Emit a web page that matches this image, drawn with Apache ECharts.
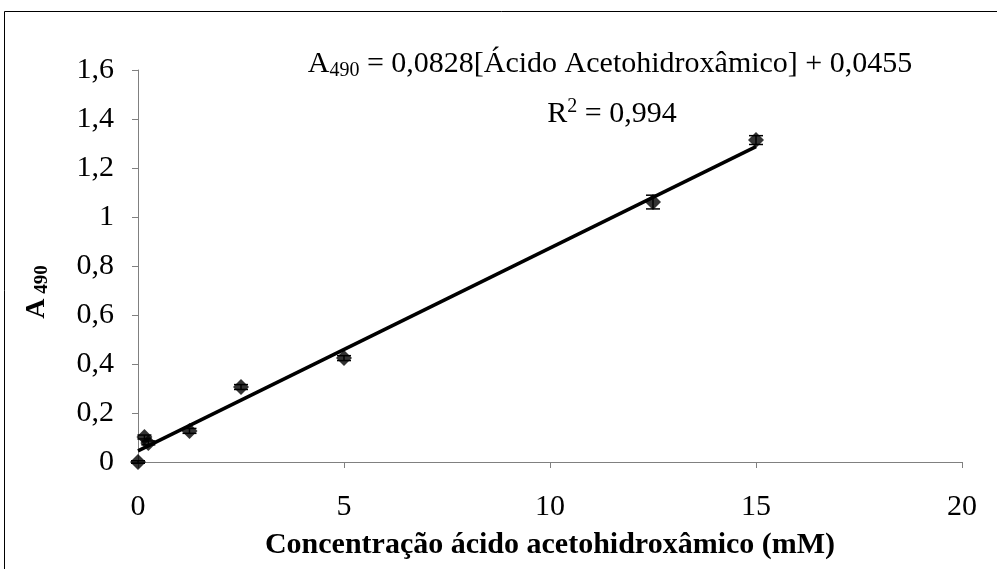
<!DOCTYPE html>
<html>
<head>
<meta charset="utf-8">
<script src="https://cdn.jsdelivr.net/npm/echarts@6/dist/echarts.min.js"></script>
<style>
  html, body { margin: 0; padding: 0; background: #fff; }
  #chart { width: 997px; height: 569px; }
</style>
</head>
<body>
<div id="chart"></div>
<script>
// Concentration of acetohydroxamic acid (mM) and measured absorbance at 490 nm
var concentration = [0, 0.156, 0.25, 1.25, 2.5, 5, 12.5, 15];
var absorbance    = [0, 0.102, 0.078, 0.127, 0.306, 0.424, 1.061, 1.314];
var stdDev        = [0.005, 0.008, 0.008, 0.01, 0.01, 0.01, 0.028, 0.018];

// Linear fit reported for the calibration curve
var slope = 0.0828;
var intercept = 0.0455;
var fitRange = [0, 15];

var xTicks = [0, 5, 10, 15, 20];
var yTicks = [0, 0.2, 0.4, 0.6, 0.8, 1, 1.2, 1.4, 1.6];

var serif = '"Liberation Serif", "Times New Roman", serif';

function fmtComma(v) {
  return String(Math.round(v * 10) / 10).replace('.', ',');
}

var points = concentration.map(function (c, i) { return [c, absorbance[i]]; });
var errors = concentration.map(function (c, i) { return [c, absorbance[i] - stdDev[i], absorbance[i] + stdDev[i]]; });
var fitLine = fitRange.map(function (c) { return [c, slope * c + intercept]; });

var labelRich = {
  t: { fontFamily: serif, fontSize: 30, lineHeight: 34, fill: '#000', verticalAlign: 'middle' },
  sub: { fontFamily: serif, fontSize: 20, lineHeight: 20, fill: '#000', verticalAlign: 'bottom' },
  sup: { fontFamily: serif, fontSize: 20, lineHeight: 20, fill: '#000', verticalAlign: 'top' }
};

var chart = echarts.init(document.getElementById('chart'));
chart.setOption({
  animation: false,
  backgroundColor: '#fff',
  grid: { left: 138, right: 35, top: 70, bottom: 107, containLabel: false },
  xAxis: {
    type: 'value',
    min: xTicks[0], max: xTicks[xTicks.length - 1], interval: 5,
    splitLine: { show: false },
    axisLine: { onZero: false, lineStyle: { color: '#808080', width: 1 } },
    axisTick: { show: true, inside: false, length: 6, lineStyle: { color: '#808080' } },
    axisLabel: { color: '#000', fontFamily: serif, fontSize: 30, margin: 30 },
    name: 'Concentração ácido acetohidroxâmico (mM)',
    nameLocation: 'middle', nameGap: 68,
    nameTextStyle: { color: '#000', fontFamily: serif, fontSize: 30, fontWeight: 'bold' }
  },
  yAxis: {
    type: 'value',
    min: yTicks[0], max: yTicks[yTicks.length - 1], interval: 0.2,
    splitLine: { show: false },
    axisLine: { show: true, lineStyle: { color: '#808080', width: 1 } },
    axisTick: { show: true, inside: false, length: 6, lineStyle: { color: '#808080' } },
    axisLabel: { color: '#000', fontFamily: serif, fontSize: 30, margin: 24, formatter: fmtComma },
    name: ''
  },
  graphic: [
    {
      type: 'rect', z: -1, silent: true,
      shape: { x: 4.5, y: 11.5, width: 1100, height: 700 },
      style: { fill: 'none', stroke: '#000', lineWidth: 1 }
    },
    {
      // rotated y-axis title
      type: 'text', silent: true, x: 52, y: 292, rotation: Math.PI / 2,
      style: {
        text: '{a|A}{s| 490}',
        align: 'center', verticalAlign: 'bottom',
        rich: {
          a: { fontFamily: serif, fontSize: 28, lineHeight: 30, fontWeight: 'bold', fill: '#000', verticalAlign: 'middle' },
          s: { fontFamily: serif, fontSize: 19, lineHeight: 19, fontWeight: 'bold', fill: '#000', verticalAlign: 'bottom' }
        }
      }
    },
    {
      type: 'text', silent: true, x: 610, y: 64,
      style: {
        text: '{t|A}{sub|490}{t| = 0,0828[Ácido Acetohidroxâmico] + 0,0455}',
        align: 'center', verticalAlign: 'middle',
        rich: labelRich
      }
    },
    {
      type: 'text', silent: true, x: 612, y: 114,
      style: {
        text: '{t|R}{sup|2}{t| = 0,994}',
        align: 'center', verticalAlign: 'middle',
        rich: labelRich
      }
    }
  ],
  series: [
    {
      type: 'line', data: fitLine, symbol: 'none', z: 2,
      lineStyle: { color: '#000', width: 3.5 }
    },
    {
      type: 'custom', data: errors, z: 3,
      renderItem: function (params, api) {
        var x = api.value(0);
        var lo = api.coord([x, api.value(1)]);
        var hi = api.coord([x, api.value(2)]);
        var cap = 7;
        var ls = { stroke: '#000', lineWidth: 1.5 };
        return {
          type: 'group',
          children: [
            { type: 'line', shape: { x1: lo[0], y1: lo[1], x2: hi[0], y2: hi[1] }, style: ls },
            { type: 'line', shape: { x1: lo[0] - cap, y1: lo[1], x2: lo[0] + cap, y2: lo[1] }, style: ls },
            { type: 'line', shape: { x1: hi[0] - cap, y1: hi[1], x2: hi[0] + cap, y2: hi[1] }, style: ls }
          ]
        };
      }
    },
    {
      type: 'scatter', data: points, z: 4,
      symbol: 'diamond', symbolSize: 16,
      itemStyle: { color: '#000' }
    }
  ]
});
</script>
</body>
</html>
